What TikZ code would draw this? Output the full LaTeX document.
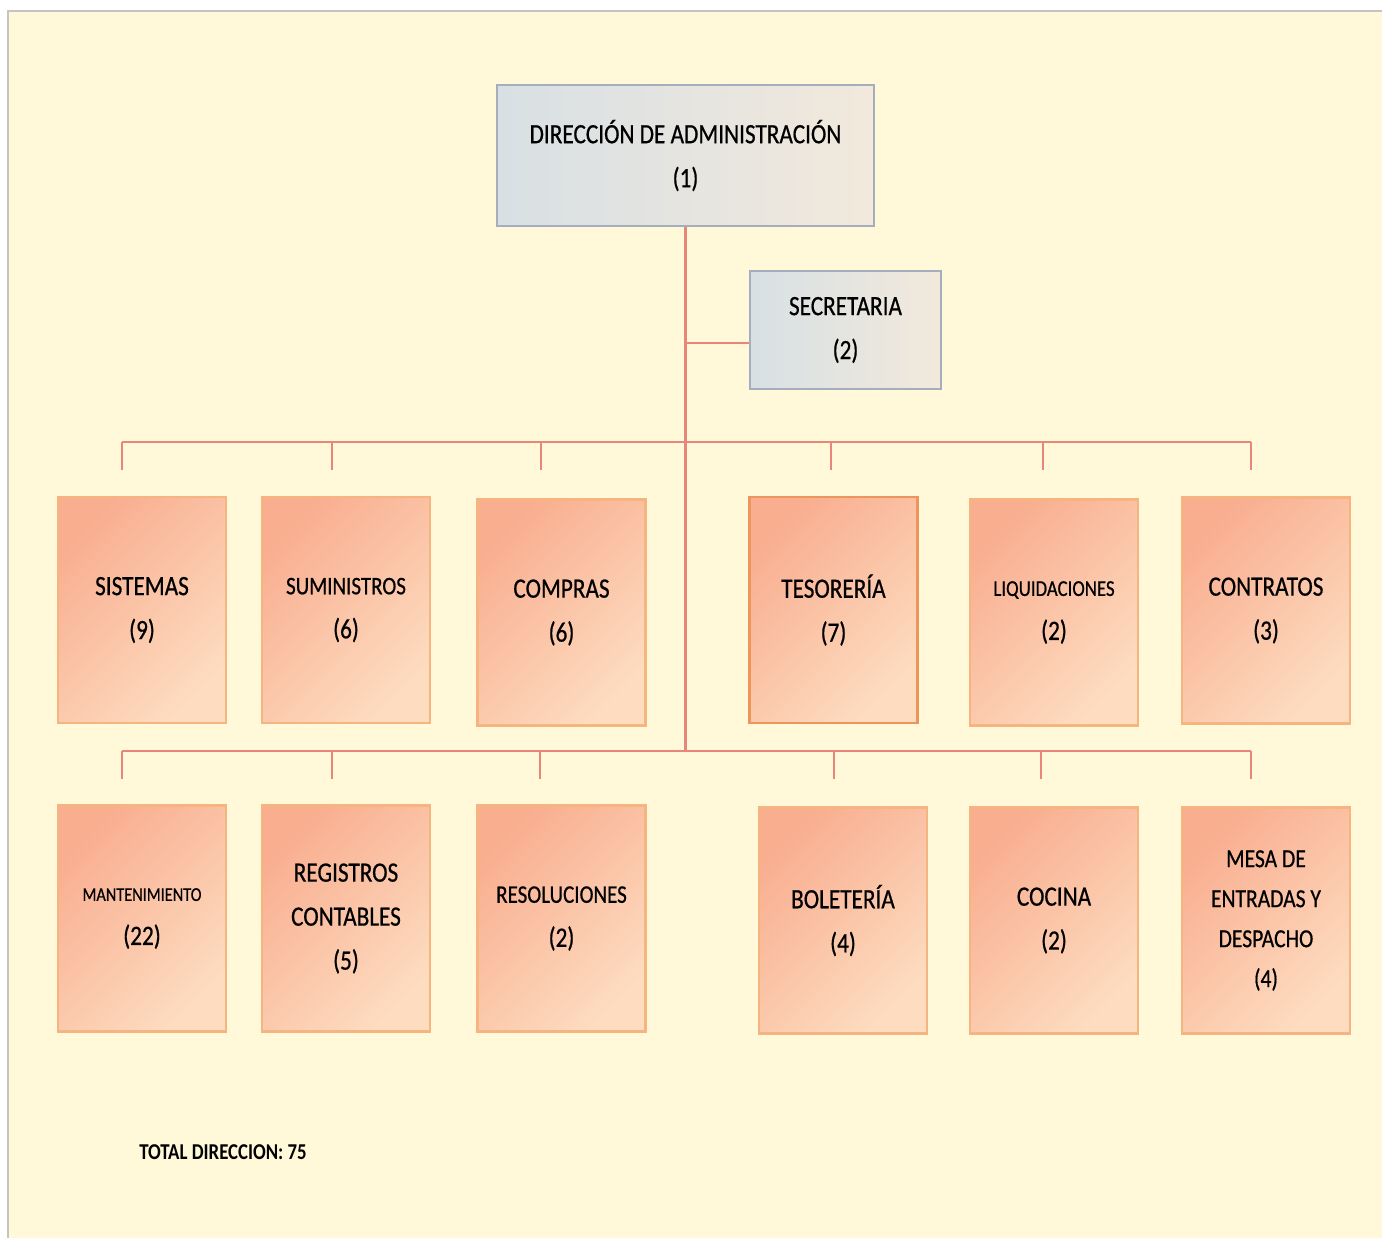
\documentclass[tikz,border=0pt]{standalone}
\usepackage{fontspec}
\setmainfont{Carlito}[FakeStretch=0.83]
\newfontfamily\boldish{Carlito}[FakeStretch=0.83,FakeBold=0.6]
\definecolor{cream}{RGB}{255,249,218}
\definecolor{frame}{RGB}{196,196,196}
\definecolor{link}{RGB}{232,134,122}
\definecolor{salmonA}{RGB}{249,174,144}
\definecolor{salmonB}{RGB}{253,220,192}
\definecolor{peachedge}{RGB}{246,180,128}
\definecolor{tesedge}{RGB}{236,150,92}
\definecolor{greyA}{RGB}{216,224,228}
\definecolor{greyB}{RGB}{242,233,220}
\definecolor{greyedge}{RGB}{164,174,188}
\tikzset{
  unit/.style={draw=peachedge, line width=2.2pt, top color=salmonA, bottom color=salmonB,
    shading angle=45, minimum width=126pt, minimum height=169.5pt, inner sep=0pt,
    align=center, text=black, font=\boldish\fontsize{21}{33}\selectfont},
  headbox/.style={draw=greyedge, line width=2.2pt, top color=greyA, bottom color=greyB,
    shading angle=90, inner sep=0pt, align=center, text=black,
    font=\boldish\fontsize{21}{33}\selectfont},
  conn/.style={draw=link, line width=1.6pt},
}
\begin{document}
\begin{tikzpicture}[x=0.75pt,y=-0.75pt]
\useasboundingbox (0,0) rectangle (1382,1238);
\fill[white] (0,0) rectangle (1382,1238);
\fill[cream] (8,11) rectangle (1382,1238);
\draw[frame, line width=1.5pt] (8,1238) -- (8,11) -- (1382,11);

% connectors
\coordinate (b1L) at (122,442);
\coordinate (b1R) at (1251,442);
\coordinate (b2L) at (122,751);
\coordinate (b2R) at (1251,751);
\coordinate (secj) at (686,343);

% head boxes
\node[headbox, minimum width=282.75pt, minimum height=105.75pt] (dir) at (685.5,155.5)
  {DIRECCIÓN DE ADMINISTRACIÓN\\(1)};
\node[headbox, minimum width=143.25pt, minimum height=88.5pt] (sec) at (845.5,330)
  {SECRETARIA\\(2)};

\draw[conn] (dir.south) -- (dir.south |- b2L);
\draw[conn] (secj) -- (secj -| sec.west);
\draw[conn] (b1L) -- (b1R);
\draw[conn] (b2L) -- (b2R);

% row 1
\node[unit] (sis) at (142,610) {SISTEMAS\\(9)};
\node[unit] (sum) at (346,610) {{\fontsize{19}{33}\selectfont SUMINISTROS}\\(6)};
\node[unit] (com) at (561.5,612.5) {COMPRAS\\(6)};
\node[unit, draw=tesedge] (tes) at (833.5,610) {TESORERÍA\\(7)};
\node[unit] (liq) at (1054,612.5) {{\fontsize{17}{33}\selectfont LIQUIDACIONES}\\(2)};
\node[unit] (con) at (1266,610.5) {CONTRATOS\\(3)};

% row 2
\node[unit] (man) at (142,918.5) {{\fontsize{14.7}{33}\selectfont MANTENIMIENTO}\\(22)};
\node[unit] (reg) at (346,918.5) {REGISTROS\\CONTABLES\\(5)};
\node[unit] (res) at (561.5,918.5) {{\fontsize{19}{33}\selectfont RESOLUCIONES}\\(2)};
\node[unit] (bol) at (843,920.5) {BOLETERÍA\\(4)};
\node[unit] (coc) at (1054,920.5) {COCINA\\(2)};
\node[unit, font=\boldish\fontsize{19.5}{30}\selectfont] (mes) at (1266,920.5) {MESA DE\\ENTRADAS Y\\DESPACHO\\(4)};

% drops row 1
\foreach \x/\n in {122/a1,332/a2,541/a3,831/a4,1043/a5,1251/a6}{
  \coordinate (\n top) at (\x,442);
  \coordinate (\n) at (\x,470);
  \draw[conn] (\n top) -- (\n);
}
% drops row 2
\foreach \x/\n in {122/c1,332/c2,540/c3,834/c4,1041/c5,1251/c6}{
  \coordinate (\n top) at (\x,751);
  \coordinate (\n) at (\x,779);
  \draw[conn] (\n top) -- (\n);
}

\node[anchor=west, inner sep=0pt, font=\fontsize{17}{20}\selectfont\bfseries, text=black] (total)
  at (139,1152) {TOTAL DIRECCION: 75};
\end{tikzpicture}
\end{document}
